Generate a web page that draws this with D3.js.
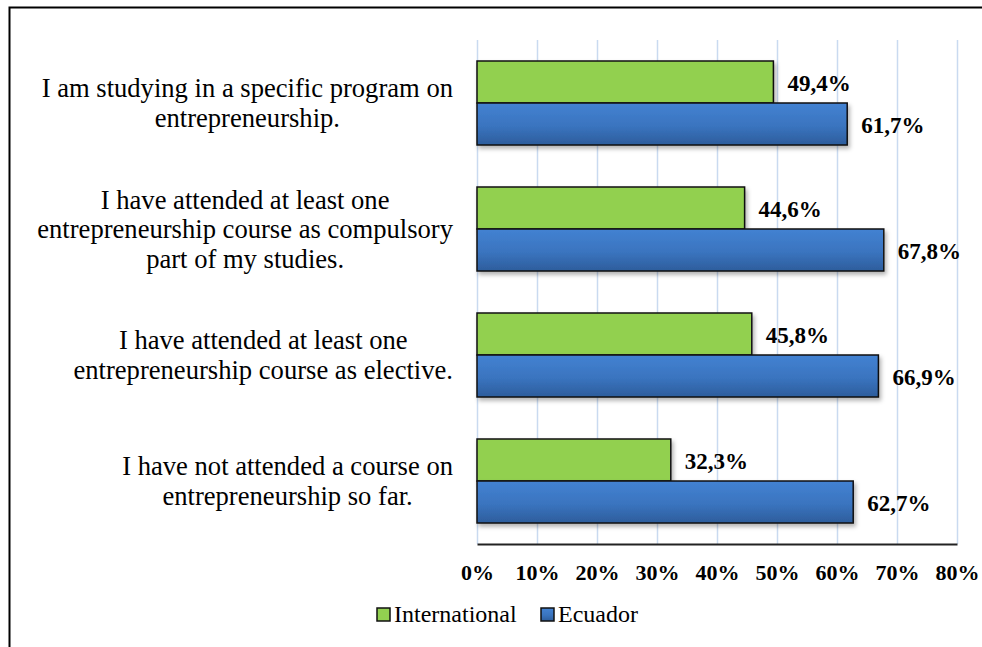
<!DOCTYPE html>
<html>
<head>
<meta charset="utf-8">
<script src="https://cdn.jsdelivr.net/npm/d3@7"></script>
<style>
  html, body { margin: 0; padding: 0; background: #fff; }
  svg { display: block; }
  text { font-family: "Liberation Serif", "Times New Roman", serif; fill: #000; }
</style>
</head>
<body>
<svg id="chart" width="982" height="647"></svg>
<script>
// Survey statements (top to bottom), each split into its display lines
const categories = [
  ["I am studying in a specific program on", "entrepreneurship."],
  ["I have attended at least one", "entrepreneurship course as compulsory", "part of my studies."],
  ["I have attended at least one", "entrepreneurship course as elective."],
  ["I have not attended a course on", "entrepreneurship so far."]
];
const seriesNames = ["International", "Ecuador"];
const international = [49.4, 44.6, 45.8, 32.3];
const ecuador = [61.7, 67.8, 66.9, 62.7];
const tickValues = [0, 10, 20, 30, 40, 50, 60, 70, 80];

const svg = d3.select("#chart");
const W = 982, H = 647;
const plot = { left: 477, right: 957, top: 40, bottom: 544 };

// Frame around the figure
svg.append("rect")
  .attr("x", 9.5).attr("y", 7.5)
  .attr("width", W + 20).attr("height", H + 20)
  .attr("fill", "#fff").attr("stroke", "#000").attr("stroke-width", 2);

const defs = svg.append("defs");
const blueGrad = defs.append("linearGradient").attr("id", "blueGrad")
  .attr("x1", 0).attr("y1", 0).attr("x2", 0).attr("y2", 1);
blueGrad.append("stop").attr("offset", "0%").attr("stop-color", "#4382d2");
blueGrad.append("stop").attr("offset", "55%").attr("stop-color", "#3a74bf");
blueGrad.append("stop").attr("offset", "100%").attr("stop-color", "#2d5d9c");

const shadow = defs.append("filter").attr("id", "shadow")
  .attr("x", "-5%").attr("y", "-20%").attr("width", "115%").attr("height", "150%");
shadow.append("feDropShadow").attr("dx", 2).attr("dy", 3)
  .attr("stdDeviation", 2).attr("flood-color", "#000").attr("flood-opacity", 0.3);

const x = d3.scaleLinear().domain([0, 80]).range([plot.left, plot.right]);
const y = d3.scaleBand().domain(d3.range(categories.length))
  .range([plot.top, plot.bottom]).paddingInner(1 / 3).paddingOuter(1 / 6);
const ySub = d3.scaleBand().domain([0, 1]).range([0, y.bandwidth()]);

// Vertical gridlines
svg.append("g").selectAll("line").data(tickValues).join("line")
  .attr("x1", d => Math.round(x(d)) + 0.5).attr("x2", d => Math.round(x(d)) + 0.5)
  .attr("y1", plot.top).attr("y2", plot.bottom)
  .attr("stroke", "#c9daf0").attr("stroke-width", 1.5);

// Bottom axis with percentage labels
const xAxis = d3.axisBottom(x).tickValues(tickValues)
  .tickFormat(d => d + "%").tickSize(0).tickPadding(20);
const axG = svg.append("g").attr("transform", `translate(0,${plot.bottom})`).call(xAxis);
axG.select(".domain").attr("stroke", "#222").attr("stroke-width", 2);
axG.selectAll("text")
  .style("font-family", '"Liberation Serif", "Times New Roman", serif')
  .style("font-size", "22px").style("font-weight", "bold").attr("fill", "#000");

// Bars
const rows = categories.map((c, i) => ({ i, vals: [international[i], ecuador[i]] }));
const fills = ["#92d050", "url(#blueGrad)"];
const groups = svg.append("g").selectAll("g").data(rows).join("g")
  .attr("transform", d => `translate(0,${y(d.i)})`);

groups.selectAll("rect").data(d => d.vals.map((v, s) => ({ v, s }))).join("rect")
  .attr("x", x(0))
  .attr("y", d => ySub(d.s))
  .attr("width", d => x(d.v) - x(0))
  .attr("height", ySub.bandwidth())
  .attr("fill", d => fills[d.s])
  .attr("stroke", "#111").attr("stroke-width", 1.5)
  .attr("filter", "url(#shadow)");

// Value labels
const fmt = v => v.toFixed(1).replace(".", ",") + "%";
groups.selectAll("text.val").data(d => d.vals.map((v, s) => ({ v, s }))).join("text")
  .attr("class", "val")
  .attr("x", d => x(d.v) + 14)
  .attr("y", d => ySub(d.s) + ySub.bandwidth() / 2 + 9)
  .style("font-size", "23px").style("font-weight", "bold")
  .text(d => fmt(d.v));

// Category labels: lines centred on one another, block right-aligned to the plot
const labelRight = 453, lineH = 29.5;
const catG = svg.append("g");
categories.forEach((lines, i) => {
  const cy = y(i) + y.bandwidth() / 2;
  const t = catG.append("text").style("font-size", "26.6px");
  const spans = lines.map((ln, k) => t.append("tspan").text(ln));
  const widths = spans.map(s => s.node().getComputedTextLength());
  const cx = labelRight - d3.max(widths) / 2;
  spans.forEach((s, k) => {
    s.attr("x", cx).attr("text-anchor", "middle")
      .attr("y", cy + (k - (lines.length - 1) / 2) * lineH + 9);
  });
});

// Legend
const legendItems = [
  { name: seriesNames[0], fill: "#92d050", x: 377 },
  { name: seriesNames[1], fill: "url(#blueGrad)", x: 541 }
];
const lg = svg.append("g").selectAll("g").data(legendItems).join("g")
  .attr("transform", d => `translate(${d.x},608)`);
lg.append("rect").attr("width", 13).attr("height", 13)
  .attr("fill", d => d.fill).attr("stroke", "#111").attr("stroke-width", 1.5);
lg.append("text").attr("x", 17).attr("y", 14)
  .style("font-size", "24px").text(d => d.name);
</script>
</body>
</html>
